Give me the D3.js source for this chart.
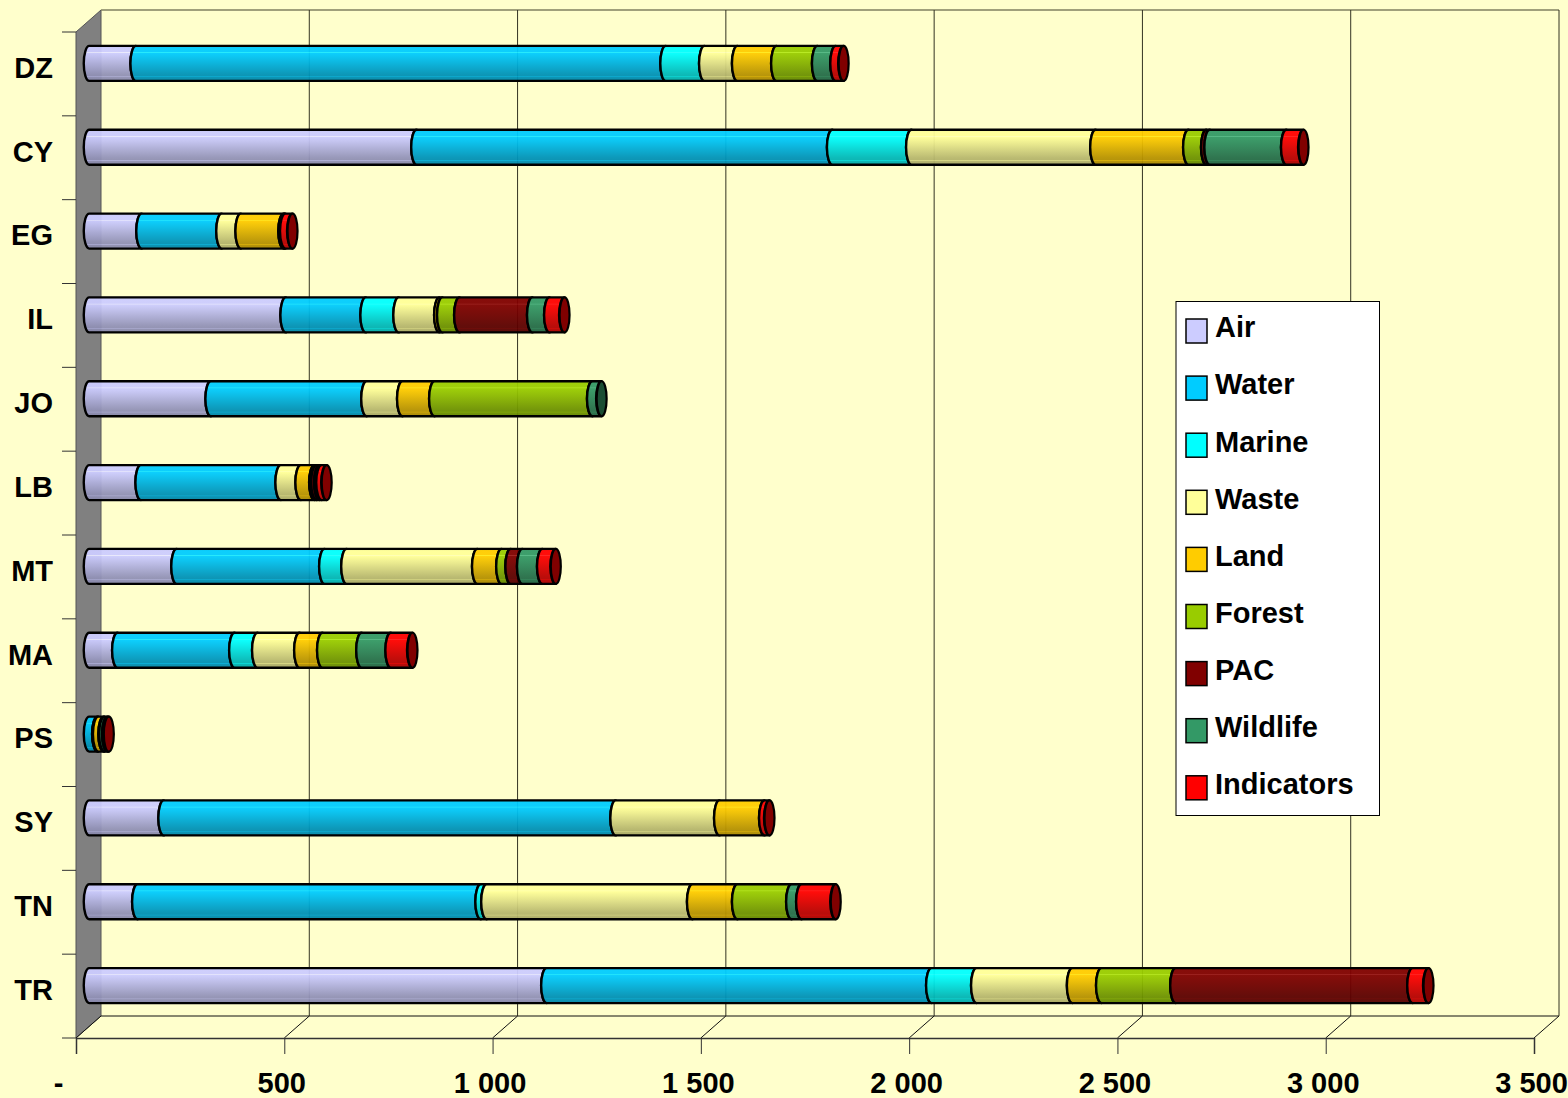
<!DOCTYPE html>
<html>
<head>
<meta charset="utf-8" />
<title>Stacked cylinders</title>
<script src="https://d3js.org/d3.v7.min.js"></script>
<style>
  html, body { margin: 0; padding: 0; background: #ffffcc; overflow: hidden; }
  svg { display: block; }
  text { font-family: "Liberation Sans", Arial, sans-serif; font-weight: bold; font-size: 29px; fill: #000; }
</style>
</head>
<body>
<div id="chart"></div>
<script>
var countries = ["DZ", "CY", "EG", "IL", "JO", "LB", "MT", "MA", "PS", "SY", "TN", "TR"];
var seriesNames = ["Air", "Water", "Marine", "Waste", "Land", "Forest", "PAC", "Wildlife", "Indicators"];
var seriesColors = ["#ccccff", "#00ccff", "#00ffff", "#ffff99", "#ffcc00", "#99cc00", "#800000", "#339966", "#ff0000"];
var xTicks = [0, 500, 1000, 1500, 2000, 2500, 3000, 3500];

var air        = [112, 786, 126, 472, 292, 124, 210,  68,  0,  179,  116, 1098];
var water      = [1272, 998, 192, 192, 374, 336, 355, 281, 20, 1085, 824, 924];
var marine     = [93,  190,  0,  79,   0,   0,  53,  55,  0,    0,   14, 108];
var waste      = [79,  442, 46,  98,  86,  48, 314, 101,  2,  249,  494, 230];
var land       = [94,  223, 103,  7,  77,  33,  58,  55, 13,  108,  108,  70];
var forest     = [98,   43,  0,  41, 379,   5,  22,  94,  2,    0,  130, 178];
var pac        = [0,     8,  2, 175,   0,   7,  28,   0,  0,    0,    0, 569];
var wildlife   = [44,  184,  2,  41,  22,   5,  48,  70,  7,    0,   24,   0];
var indicators = [19,   41, 17,  36,   0,  12,  32,  52,  3,   12,   82,  38];

var seriesValues = [air, water, marine, waste, land, forest, pac, wildlife, indicators];

var width = 1568, height = 1098;
var frontLeft = 76, frontRight = 1534, frontTop = 32, frontBottom = 1038;
var depthX = 25, depthY = -22;
var ry = 17.5, rx = 5.5;

var rows = countries.map(function (c, i) {
  var row = { country: c };
  seriesNames.forEach(function (s, k) { row[s] = seriesValues[k][i]; });
  return row;
});
var stacked = d3.stack().keys(seriesNames)(rows);

var x = d3.scaleLinear().domain([0, 3500]).range([frontLeft, frontRight]);
var y = d3.scaleBand().domain(countries).range([frontTop, frontBottom]);

var svg = d3.select("#chart").append("svg").attr("width", width).attr("height", height);
svg.append("rect").attr("width", width).attr("height", height).attr("fill", "#ffffcc");

// cylinder shading, one gradient per series
var shade = [[0, .93], [.06, 1], [.17, 1], [.19, 1.12], [.21, 1], [.34, .94], [.55, .84], [.8, .72], [.86, .7], [.88, .84], [.9, .7], [1, .65]];
var defs = svg.append("defs");
function scaled(c, f) {
  var r = d3.rgb(c);
  var lift = f > 1 ? (f - 1) * 255 : 0;
  var m = Math.min(f, 1);
  return d3.rgb(Math.min(255, r.r * m + lift), Math.min(255, r.g * m + lift), Math.min(255, r.b * m + lift)).formatHex();
}
seriesNames.forEach(function (s, k) {
  var g = defs.append("linearGradient").attr("id", "grad" + k)
    .attr("x1", 0).attr("x2", 0).attr("y1", 0).attr("y2", 1);
  shade.forEach(function (p) {
    g.append("stop").attr("offset", p[0]).attr("stop-color", scaled(seriesColors[k], p[1]));
  });
});

// back wall and floor
var gridColor = "#333322";
svg.append("polygon")
  .attr("points", [[frontLeft, frontTop], [frontLeft + depthX, frontTop + depthY], [frontLeft + depthX, frontBottom + depthY], [frontLeft, frontBottom]].join(" "))
  .attr("fill", "#808080").attr("stroke", "#555").attr("stroke-width", 1);

svg.append("line").attr("x1", frontLeft + depthX).attr("x2", frontRight + depthX)
  .attr("y1", frontTop + depthY).attr("y2", frontTop + depthY).attr("stroke", "#808060").attr("stroke-width", 1.5);
svg.append("line").attr("x1", frontLeft + depthX).attr("x2", frontRight + depthX)
  .attr("y1", frontBottom + depthY).attr("y2", frontBottom + depthY).attr("stroke", "#111").attr("stroke-width", 1);

svg.selectAll(".grid").data(xTicks.slice(1)).enter().append("line").attr("class", "grid")
  .attr("x1", function (d) { return x(d) + depthX; }).attr("x2", function (d) { return x(d) + depthX; })
  .attr("y1", frontTop + depthY).attr("y2", frontBottom + depthY)
  .attr("stroke", gridColor).attr("stroke-width", 1);
svg.selectAll(".floor").data(xTicks).enter().append("line").attr("class", "floor")
  .attr("x1", function (d) { return x(d); }).attr("x2", function (d) { return x(d) + depthX; })
  .attr("y1", frontBottom).attr("y2", frontBottom + depthY)
  .attr("stroke", "#111").attr("stroke-width", 1);

// bottom axis
var fmt = d3.formatLocale({ decimal: ".", thousands: " ", grouping: [3], currency: ["", ""] }).format(",d");
var xAxis = svg.append("g").attr("transform", "translate(0," + frontBottom + ")")
  .call(d3.axisBottom(x).tickValues(xTicks).tickSize(16).tickPadding(18)
    .tickFormat(function (d) { return d === 0 ? "-" : fmt(d); }));
xAxis.select(".domain").attr("stroke", "#333").attr("stroke-width", 1.5);
xAxis.selectAll("line").attr("stroke", "#333");
xAxis.selectAll("text").attr("font-size", null).attr("font-family", null)
  .attr("dx", function (d) { return d === 0 ? -18 : -3; });

// left axis, ticks fall between the categories
svg.selectAll(".ytick").data(countries.concat("end")).enter().append("line").attr("class", "ytick")
  .attr("x1", frontLeft - 14).attr("x2", frontLeft)
  .attr("y1", function (d, i) { return frontTop + i * y.step(); })
  .attr("y2", function (d, i) { return frontTop + i * y.step(); })
  .attr("stroke", "#333").attr("stroke-width", 1);
var yAxis = svg.append("g").attr("transform", "translate(" + (frontLeft - 23) + ",-5.5)")
  .call(d3.axisLeft(y).tickSize(0).tickPadding(0));
yAxis.select(".domain").remove();
yAxis.selectAll("text").attr("font-size", null).attr("font-family", null);

// cylinders sit half way into the depth
var barX = function (v) { return x(v) + depthX / 2 + .75; };
var barY = function (c) { return y(c) + y.bandwidth() / 2 + depthY / 2 + .5; };

function segPath(x0, x1, cy) {
  return "M" + x0 + "," + (cy - ry) +
    "A" + rx + "," + ry + " 0 0 0 " + x0 + "," + (cy + ry) +
    "L" + x1 + "," + (cy + ry) +
    "A" + rx + "," + ry + " 0 0 1 " + x1 + "," + (cy - ry) + "Z";
}

stacked.forEach(function (layer, k) {
  var visible = layer.filter(function (d) { return d[1] > d[0]; });
  svg.append("g").selectAll("path").data(visible).enter().append("path")
    .attr("d", function (d) { return segPath(barX(d[0]), barX(d[1]), barY(d.data.country)); })
    .attr("fill", "url(#grad" + k + ")")
    .attr("fill-opacity", .95)
    .attr("stroke", "#000").attr("stroke-width", 2.4).attr("stroke-linejoin", "round");
});

// end caps take the darker colour of the last series in the bar
svg.append("g").selectAll("ellipse").data(rows).enter().append("ellipse")
  .attr("cx", function (d) { return barX(d3.sum(seriesNames, function (s) { return d[s]; })); })
  .attr("cy", function (d) { return barY(d.country); })
  .attr("rx", 5).attr("ry", ry)
  .attr("fill", function (d) {
    var last = d3.range(seriesNames.length).filter(function (k) { return d[seriesNames[k]] > 0; }).pop();
    return scaled(seriesColors[last], .5);
  })
  .attr("stroke", "#000").attr("stroke-width", 2.2);

// legend
svg.append("rect").attr("x", 1176).attr("y", 301.5).attr("width", 203.5).attr("height", 514)
  .attr("fill", "#fff").attr("stroke", "#000").attr("stroke-width", 1);
var legend = svg.selectAll(".legend").data(seriesNames).enter().append("g").attr("class", "legend")
  .attr("transform", function (d, i) { return "translate(0," + (i * 57.1) + ")"; });
legend.append("rect").attr("x", 1186).attr("y", 319).attr("width", 21).attr("height", 24)
  .attr("fill", function (d, i) { return seriesColors[i]; })
  .attr("stroke", "#000").attr("stroke-width", 1.5);
legend.append("text").attr("x", 1215).attr("y", 337.4).text(function (d) { return d; });
</script>
</body>
</html>
